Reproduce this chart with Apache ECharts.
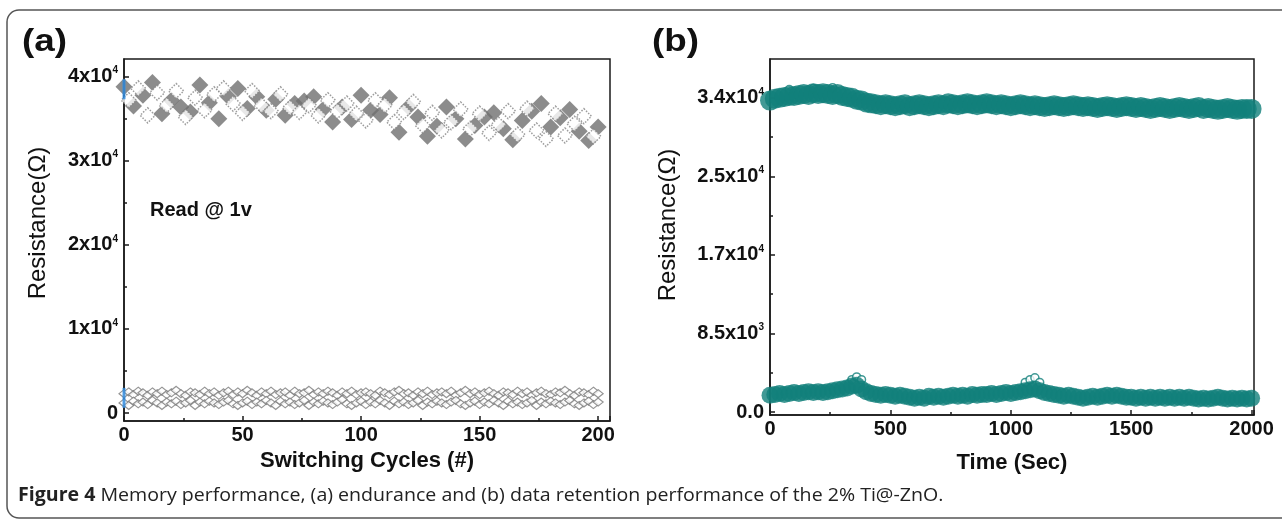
<!DOCTYPE html>
<html>
<head>
<meta charset="utf-8">
<script src="https://cdn.jsdelivr.net/npm/echarts@6/dist/echarts.min.js"></script>
<style>
  html, body { margin: 0; padding: 0; background: #fff; }
  #main { width: 1282px; height: 521px; }
</style>
</head>
<body>
<div id="main"></div>
<script>
// ---- panel (a): endurance ----
var cyc4 = [0, 4, 8, 12, 16, 20, 24, 28, 32, 36, 40, 44, 48, 52, 56, 60, 64, 68, 72, 76, 80, 84, 88, 92, 96, 100,
  104, 108, 112, 116, 120, 124, 128, 132, 136, 140, 144, 148, 152, 156, 160, 164, 168, 172, 176, 180, 184, 188, 192, 196, 200];
var hrsFilled = [38800, 36500, 37800, 39300, 35600, 37200, 36400, 35800, 39000, 36900, 35000, 37600, 38600, 36200, 37600, 36000, 37300,
  35400, 36800, 37100, 37600, 36100, 34600, 36400, 34900, 37800, 36000, 35500, 37500, 33400, 36400, 35200, 32900, 34100, 36400,
  35000, 32600, 34200, 35200, 35700, 33800, 32500, 34800, 35900, 36800, 34000, 35100, 36100, 33500, 32400, 34000];

var cyc4b = [2, 6, 10, 14, 18, 22, 26, 30, 34, 38, 42, 46, 50, 54, 58, 62, 66, 70, 74, 78, 82, 86, 90, 94, 98,
  102, 106, 110, 114, 118, 122, 126, 130, 134, 138, 142, 146, 150, 154, 158, 162, 166, 170, 174, 178, 182, 186, 190, 194, 198];
var hrsOpen = [37200, 38600, 35400, 38100, 36600, 38300, 35200, 37500, 36000, 37900, 38600, 36800, 35700, 38300, 36600, 35900, 37900,
  36300, 35800, 36600, 35400, 37200, 35900, 36800, 35600, 34800, 37200, 36600, 34600, 35800, 37000, 34200, 35700, 33600, 34600,
  36100, 33800, 35600, 33300, 34300, 35900, 33100, 36200, 33600, 32600, 35600, 33000, 34400, 35300, 32900];

var cyc2 = [0, 2, 4, 6, 8, 10, 12, 14, 16, 18, 20, 22, 24, 26, 28, 30, 32, 34, 36, 38, 40, 42, 44, 46, 48, 50,
  52, 54, 56, 58, 60, 62, 64, 66, 68, 70, 72, 74, 76, 78, 80, 82, 84, 86, 88, 90, 92, 94, 96, 98, 100,
  102, 104, 106, 108, 110, 112, 114, 116, 118, 120, 122, 124, 126, 128, 130, 132, 134, 136, 138, 140, 142, 144, 146, 148, 150,
  152, 154, 156, 158, 160, 162, 164, 166, 168, 170, 172, 174, 176, 178, 180, 182, 184, 186, 188, 190, 192, 194, 196, 198, 200];
var lrsUp = [2300, 2500, 2200, 2600, 2400, 2100, 2500, 2300, 2600, 2200,
  2400, 2700, 2300, 2100, 2500, 2400, 2200, 2600, 2300, 2500,
  2100, 2400, 2600, 2200, 2500, 2300, 2700, 2400, 2100, 2500,
  2300, 2600, 2200, 2400, 2500, 2100, 2600, 2300, 2400, 2700,
  2200, 2500, 2300, 2600, 2400, 2100, 2500, 2300, 2600, 2200,
  2400, 2500, 2300, 2100, 2600, 2400, 2200, 2500, 2700, 2300,
  2400, 2100, 2500, 2300, 2600, 2200, 2400, 2500, 2300, 2600,
  2100, 2400, 2700, 2300, 2500, 2200, 2400, 2600, 2300, 2100,
  2500, 2400, 2200, 2600, 2300, 2500, 2100, 2400, 2600, 2300,
  2200, 2500, 2400, 2700, 2300, 2100, 2500, 2400, 2200, 2600, 2300];
var lrsLow = [1200, 900, 1400, 1100, 1300, 1000, 1500, 1200, 900, 1300,
  1100, 1400, 1000, 1200, 1500, 900, 1300, 1100, 1400, 1200,
  1000, 1300, 1500, 1100, 900, 1200, 1400, 1000, 1300, 1100,
  1500, 1200, 900, 1400, 1100, 1300, 1000, 1200, 1500, 900,
  1300, 1100, 1400, 1200, 1000, 1300, 1600, 1100, 900, 1200,
  1400, 1000, 1300, 1100, 1500, 1200, 900, 1400, 1100, 1300,
  1000, 1200, 1500, 900, 1300, 1100, 1400, 1200, 1000, 1300,
  1500, 1100, 900, 1200, 1400, 1000, 1300, 1100, 1500, 1200,
  900, 1400, 1100, 1300, 1000, 1200, 1500, 900, 1300, 1100,
  1400, 1200, 1000, 1300, 1500, 1100, 900, 1200, 1400, 1000, 1300];
var firstCycle = [0, 0];
var firstValue = [38500, 1800];

var aYTicks = [0, 10000, 20000, 30000, 40000];
var aYMinor = [5000, 15000, 25000, 35000];
var aYMant = ['0', '1x10', '2x10', '3x10', '4x10'];
var aYExp = ['', '4', '4', '4', '4'];

// ---- panel (b): retention ----
var time20 = [0, 20, 40, 60, 80, 100, 120, 140, 160, 180, 200, 220, 240, 260, 280, 300, 320, 340, 360, 380,
  400, 420, 440, 460, 480, 500, 520, 540, 560, 580, 600, 620, 640, 660, 680, 700, 720, 740, 760, 780,
  800, 820, 840, 860, 880, 900, 920, 940, 960, 980, 1000, 1020, 1040, 1060, 1080, 1100, 1120, 1140, 1160, 1180,
  1200, 1220, 1240, 1260, 1280, 1300, 1320, 1340, 1360, 1380, 1400, 1420, 1440, 1460, 1480, 1500, 1520, 1540, 1560, 1580,
  1600, 1620, 1640, 1660, 1680, 1700, 1720, 1740, 1760, 1780, 1800, 1820, 1840, 1860, 1880, 1900, 1920, 1940, 1960, 1980, 2000];
var hrsRet = [33700, 33900, 34000, 34100, 34200, 34200, 34300, 34400, 34300, 34500,
  34400, 34500, 34400, 34300, 34400, 34200, 34100, 34000, 33800, 33700,
  33500, 33400, 33300, 33200, 33300, 33200, 33100, 33200, 33300, 33100,
  33200, 33300, 33200, 33100, 33200, 33300, 33200, 33400, 33300, 33200,
  33300, 33400, 33300, 33200, 33300, 33400, 33300, 33200, 33300, 33200,
  33100, 33200, 33300, 33200, 33100, 33200, 33100, 33000, 33100, 33200,
  33100, 33000, 33100, 33200, 33100, 33000, 33100, 33000, 32900, 33000,
  33100, 33000, 32900, 33000, 33100, 33000, 32900, 33000, 32900, 32800,
  32900, 33000, 32900, 32800, 32900, 33000, 32900, 32800, 32900, 33000,
  32800, 32900, 32800, 32700, 32800, 32900, 32800, 32700, 32800, 32800, 32800];
var lrsRet = [1800, 1900, 2000, 1900, 2000, 2100, 2000, 2100, 2200, 2100,
  2200, 2100, 2200, 2300, 2400, 2500, 2600, 2800, 2900, 2500,
  2200, 2000, 1900, 1800, 1900, 1800, 1700, 1800, 1700, 1600,
  1500, 1600, 1500, 1700, 1600, 1700, 1600, 1700, 1800, 1700,
  1800, 1700, 1900, 1800, 1900, 1900, 2000, 1900, 2000, 2100,
  2000, 2100, 2200, 2300, 2400, 2500, 2300, 2100, 2000, 1900,
  1800, 1700, 1800, 1700, 1600, 1500, 1600, 1700, 1600, 1700,
  1800, 1700, 1800, 1700, 1600, 1600, 1500, 1600, 1500, 1600,
  1500, 1600, 1500, 1600, 1500, 1600, 1500, 1600, 1500, 1400,
  1500, 1400, 1500, 1600, 1500, 1400, 1500, 1400, 1500, 1400, 1500];
var spikeTime = [80, 180, 260, 340, 360, 380, 1060, 1080, 1100, 1120];
var spikeValue = [34900, 35000, 35100, 3500, 3800, 3500, 3200, 3500, 3700, 3200];

var bYTicks = [0, 8500, 17000, 25500, 34000];
var bYMinor = [4250, 12750, 21250, 29750];
var bYMant = ['0.0', '8.5x10', '1.7x10', '2.5x10', '3.4x10'];
var bYExp = ['', '3', '4', '4', '4'];

var chart = echarts.init(document.getElementById('main'));

function pairs(xs, ys) {
  return xs.map(function (x, i) { return [x, ys[i]]; });
}
function tickLabel(ticks, mant, exp) {
  return function (v) {
    var i = ticks.indexOf(v);
    if (i < 0) return '';
    return exp[i] ? '{m|' + mant[i] + '}{s|' + exp[i] + '}' : '{m|' + mant[i] + '}';
  };
}

var AXIS = '#1a1a1a';
var FONT = 'Liberation Sans';
var TEAL = '#117f7b';
var GRAY = '#6f6f6f';
var richTick = {
  m: { fontFamily: FONT, fontWeight: 'bold', fontSize: 20, color: '#111', lineHeight: 22 },
  s: { fontFamily: FONT, fontWeight: 'bold', fontSize: 10, color: '#111', lineHeight: 10, verticalAlign: 'top' }
};

function yMajor(grid, min, max, ticks, mant, exp) {
  return {
    type: 'value', gridIndex: grid, position: 'left', min: min, max: max,
    axisLine: { show: true, lineStyle: { color: AXIS, width: 1.5 } },
    axisTick: { show: true, inside: true, length: 5, customValues: ticks, lineStyle: { color: AXIS, width: 1.5 } },
    axisLabel: { customValues: ticks, margin: 6, formatter: tickLabel(ticks, mant, exp), rich: richTick },
    splitLine: { show: false }
  };
}
function yMinor(grid, min, max, ticks) {
  return {
    type: 'value', gridIndex: grid, position: 'left', min: min, max: max,
    axisLine: { show: false },
    axisTick: { show: true, inside: true, length: 3, customValues: ticks, lineStyle: { color: AXIS, width: 1.5 } },
    axisLabel: { show: false, customValues: ticks },
    splitLine: { show: false }
  };
}
function xAxisOf(grid, max, interval, name, gap) {
  return {
    type: 'value', gridIndex: grid, min: 0, max: max, interval: interval,
    name: name, nameLocation: 'middle', nameGap: gap,
    nameTextStyle: { fontFamily: FONT, fontWeight: 'bold', fontSize: 22, color: '#111' },
    axisLine: { show: true, onZero: false, lineStyle: { color: AXIS, width: 1.5 } },
    axisTick: { show: true, inside: true, length: 5, lineStyle: { color: AXIS, width: 1.5 } },
    minorTick: { show: true, splitNumber: 2, length: 3, lineStyle: { color: AXIS, width: 1.5 } },
    axisLabel: {
      margin: 4, fontFamily: FONT, fontWeight: 'bold', fontSize: 20, color: '#111',
      formatter: function (v) { return v % interval === 0 ? String(v) : ''; }
    },
    splitLine: { show: false }, minorSplitLine: { show: false }
  };
}
function yTitle(x, y) {
  return {
    type: 'text', x: x, y: y, rotation: Math.PI / 2,
    style: { text: 'Resistance(Ω)', fontFamily: FONT, fontSize: 24, fill: '#111', align: 'center', verticalAlign: 'middle' }
  };
}

var option = {
  animation: false,
  backgroundColor: '#fff',
  grid: [
    { left: 124, top: 59, width: 486, height: 362, show: true, borderColor: AXIS, borderWidth: 1.5 },
    { left: 770, top: 59, width: 484, height: 356, show: true, borderColor: AXIS, borderWidth: 1.5 }
  ],
  xAxis: [
    xAxisOf(0, 205, 50, 'Switching Cycles (#)', 25),
    xAxisOf(1, 2010, 500, 'Time (Sec)', 37)
  ],
  yAxis: [
    yMajor(0, -950, 42100, aYTicks, aYMant, aYExp),
    yMinor(0, -950, 42100, aYMinor),
    yMajor(1, -325, 38200, bYTicks, bYMant, bYExp),
    yMinor(1, -325, 38200, bYMinor)
  ],
  series: [
    {
      type: 'scatter', xAxisIndex: 0, yAxisIndex: 0, symbol: 'diamond', symbolSize: 17,
      itemStyle: { color: GRAY }, data: pairs(cyc4, hrsFilled)
    },
    {
      type: 'scatter', xAxisIndex: 0, yAxisIndex: 0, symbol: 'diamond', symbolSize: 15,
      itemStyle: { color: '#fff', borderColor: '#858585', borderWidth: 1.5, borderType: 'dotted' },
      data: pairs(cyc4b, hrsOpen)
    },
    {
      type: 'scatter', xAxisIndex: 0, yAxisIndex: 0, symbol: 'diamond', symbolSize: [10, 8],
      itemStyle: { color: '#fff', borderColor: '#7a7a7a', borderWidth: 1.2 },
      data: pairs(cyc2, lrsUp)
    },
    {
      type: 'scatter', xAxisIndex: 0, yAxisIndex: 0, symbol: 'diamond', symbolSize: [10, 8],
      itemStyle: { color: '#fff', borderColor: '#7a7a7a', borderWidth: 1.2 },
      data: pairs(cyc2, lrsLow)
    },
    {
      type: 'scatter', xAxisIndex: 0, yAxisIndex: 0, symbol: 'rect', symbolSize: [3, 20],
      itemStyle: { color: '#2f8fe6' }, data: pairs(firstCycle, firstValue)
    },
    {
      type: 'scatter', xAxisIndex: 1, yAxisIndex: 2, symbol: 'circle', symbolSize: 8,
      itemStyle: { color: '#fff', borderColor: TEAL, borderWidth: 1.5 }, data: pairs(spikeTime, spikeValue)
    },
    {
      type: 'scatter', xAxisIndex: 1, yAxisIndex: 2, symbol: 'circle', symbolSize: 20,
      itemStyle: { color: TEAL }, data: pairs(time20, hrsRet)
    },
    {
      type: 'scatter', xAxisIndex: 1, yAxisIndex: 2, symbol: 'circle', symbolSize: 17,
      itemStyle: { color: TEAL }, data: pairs(time20, lrsRet)
    }
  ],
  graphic: [
    {
      type: 'rect', silent: true, z: -1,
      shape: { x: 7, y: 10, width: 1300, height: 508, r: 12 },
      style: { fill: 'none', stroke: '#555', lineWidth: 1.5 }
    },
    { type: 'text', x: 22, y: 26, scaleX: 1.15, style: { text: '(a)', fontFamily: FONT, fontWeight: 'bold', fontSize: 32, fill: '#111' } },
    { type: 'text', x: 652, y: 26, scaleX: 1.15, style: { text: '(b)', fontFamily: FONT, fontWeight: 'bold', fontSize: 32, fill: '#111' } },
    { type: 'text', left: 150, top: 200, style: { text: 'Read @ 1v', fontFamily: FONT, fontWeight: 'bold', fontSize: 20, fill: '#111' } },
    yTitle(38, 223),
    yTitle(668, 225),
    {
      type: 'text', x: 18, y: 486, scaleX: 1.03,
      style: {
        text: '{b|Figure 4} Memory performance, (a) endurance and (b) data retention performance of the 2% Ti@-ZnO.',
        fontFamily: 'Open Sans', fontSize: 19, fill: '#222',
        rich: { b: { fontFamily: 'Open Sans', fontWeight: 'bold', fontSize: 19, fill: '#222' } }
      }
    }
  ]
};

chart.setOption(option);
</script>
</body>
</html>
